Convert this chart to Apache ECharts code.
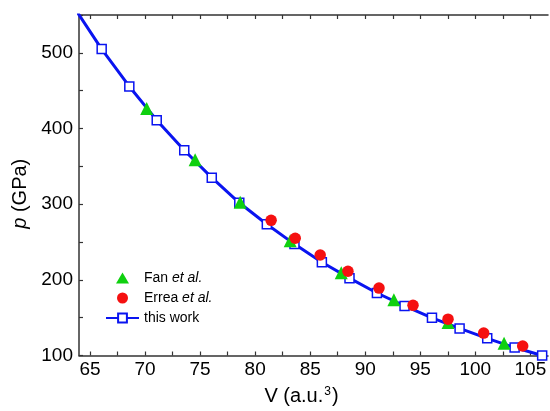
<!DOCTYPE html>
<html>
<head>
<meta charset="utf-8">
<script src="https://cdn.jsdelivr.net/npm/echarts@6/dist/echarts.min.js"></script>
<style>html,body{margin:0;padding:0;background:#fff}#c{width:550px;height:411px}</style>
</head>
<body>
<div id="c"></div>
<script>
// this work (blue squares + line); first point lies outside the plot (line continues off the frame)
const vWork = [63.56, 66.06, 68.57, 71.06, 73.56, 76.06, 78.56, 81.06, 83.57, 86.06, 88.57, 91.06, 93.57, 96.06, 98.57, 101.08, 103.57, 106.07];
const pWork = [560, 505, 455.6, 411, 371.3, 335, 301.8, 273.4, 247.2, 223.2, 202.2, 182.6, 165.5, 149.8, 135.8, 122.7, 110.5, 100];
// Fan et al. (green triangles)
const vFan = [70.15, 74.55, 78.64, 83.18, 87.82, 92.6, 97.52, 102.61];
const pFan = [426.3, 358.6, 302.6, 251.5, 209.2, 173.8, 143.6, 116.1];
// Errea et al. (red circles)
const vErrea = [81.45, 83.64, 85.91, 88.43, 91.25, 94.34, 97.52, 100.76, 104.3];
const pErrea = [278.6, 255, 232.8, 211.4, 189.1, 166.3, 148, 129.6, 112.6];
// ticks
const xLabelValues = [65, 70, 75, 80, 85, 90, 95, 100, 105];
const xTickValues = [65, 67.5, 70, 72.5, 75, 77.5, 80, 82.5, 85, 87.5, 90, 92.5, 95, 97.5, 100, 102.5, 105];

const zip = (a, b) => a.map((v, i) => [v, b[i]]);
const font = 'Arial, "Liberation Sans", sans-serif';
const axisLine = { show: true, lineStyle: { color: '#333', width: 1.5 } };
// triangle legend icon inside a 33x11 box (invisible corner points keep its aspect)
const triIcon = 'path://M0,0L0,0M33,11L33,11M10,11L16.5,0L23,11Z';

const chart = echarts.init(document.getElementById('c'), null, { renderer: 'canvas' });
chart.setOption({
  animation: false,
  backgroundColor: '#fff',
  grid: { left: 79, top: 15, right: 2, bottom: 54, containLabel: false },
  xAxis: [{
    type: 'value', min: 64, max: 106.6, position: 'bottom',
    axisLine: axisLine,
    axisTick: { show: true, inside: true, length: 4, customValues: xTickValues, lineStyle: { color: '#333', width: 1.2 } },
    axisLabel: { show: true, customValues: xLabelValues, color: '#000', fontSize: 19, fontFamily: font, margin: 5 },
    splitLine: { show: false },
    name: 'V (a.u.{sup|3})', nameLocation: 'middle', nameGap: 30,
    nameTextStyle: { color: '#000', fontSize: 20, fontFamily: font, padding: [0, 24, 0, 0],
      rich: { sup: { fontSize: 12, verticalAlign: 'top', padding: [0, 1, 9, 1], fontFamily: font, color: '#000' } } }
  }, {
    type: 'value', min: 64, max: 106.6, position: 'top',
    axisLine: axisLine,
    axisTick: { show: true, inside: true, length: 4, customValues: xTickValues, lineStyle: { color: '#333', width: 1.2 } },
    axisLabel: { show: false }, splitLine: { show: false }
  }],
  yAxis: {
    type: 'value', min: 100, max: 550, interval: 50,
    axisLine: axisLine,
    axisTick: { show: true, inside: true, length: 4, lineStyle: { color: '#333', width: 1.2 } },
    axisLabel: { color: '#000', fontSize: 19, fontFamily: font, margin: 6,
      formatter: v => (v % 100 === 0 && v <= 500) ? String(v) : '' },
    splitLine: { show: false },
    name: '{i|p} (GPa)', nameLocation: 'middle', nameGap: 46, nameRotate: 90,
    nameTextStyle: { color: '#000', fontSize: 20, fontFamily: font, padding: [0, 17, 0, 0],
      rich: { i: { fontStyle: 'italic', fontSize: 20, fontFamily: font, color: '#000' } } }
  },
  legend: {
    orient: 'vertical', left: 100, top: 266, itemWidth: 33, itemHeight: 11, itemGap: 6,
    data: [{ name: 'Fan et al.', icon: triIcon }, 'Errea et al.', 'this work'],
    textStyle: { color: '#000', fontSize: 14, fontFamily: font,
      rich: { n: { fontSize: 14, fontFamily: font, color: '#000' }, i: { fontSize: 14, fontFamily: font, fontStyle: 'italic', color: '#000' } } },
    formatter: name => {
      if (name.endsWith(' et al.')) return '{n|' + name.replace(' et al.', ' ') + '}{i|et al.}';
      return name;
    }
  },
  series: [{
    name: 'this work', type: 'line', xAxisIndex: 0, clip: true,
    data: zip(vWork, pWork),
    symbol: 'rect', symbolSize: 9, showAllSymbol: true,
    lineStyle: { color: '#0a14f0', width: 3 },
    itemStyle: { color: '#fff', borderColor: '#0a14f0', borderWidth: 1.5 },
    z: 2
  }, {
    name: 'Fan et al.', type: 'scatter', xAxisIndex: 0,
    data: zip(vFan, pFan), symbol: 'triangle', symbolSize: 13,
    itemStyle: { color: '#0fd00f', opacity: 1 }, z: 3
  }, {
    name: 'Errea et al.', type: 'scatter', xAxisIndex: 0,
    data: zip(vErrea, pErrea), symbol: 'circle', symbolSize: 11.5,
    itemStyle: { color: '#f51010', opacity: 1 }, z: 4
  }]
});
</script>
</body>
</html>
